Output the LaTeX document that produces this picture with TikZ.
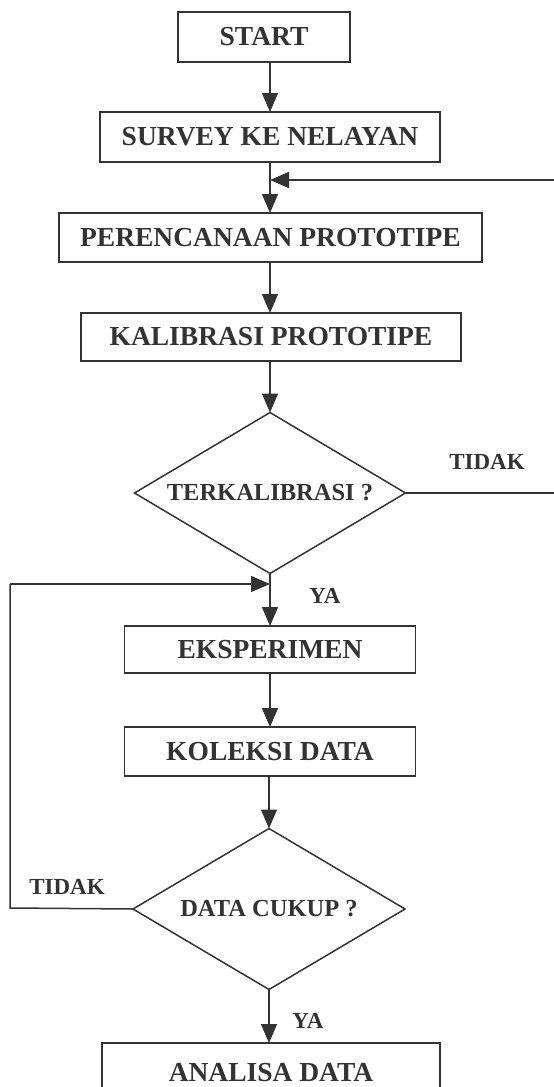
\documentclass[tikz,border=0pt]{standalone}
\usepackage{fontspec}
\setmainfont{Liberation Serif}
\usetikzlibrary{shapes.geometric,arrows.meta}
\definecolor{ink}{RGB}{51,51,51}
\tikzset{
  stepbox/.style={draw=ink, line width=1.5pt, rectangle, inner sep=0pt, outer sep=0pt,
     minimum height=50pt, text=ink, font=\fontsize{27.5}{30}\selectfont\bfseries},
  decision/.style={draw=ink, line width=1.5pt, diamond, inner sep=0pt, outer sep=0pt,
     aspect=1.677, minimum width=271pt, minimum height=161pt, text=ink,
     font=\fontsize{24.5}{28}\selectfont\bfseries},
  lbl/.style={text=ink, inner sep=0pt, font=\fontsize{23}{26}\selectfont\bfseries},
  arr/.style={draw=ink, line width=1.5pt, -{Triangle[length=19pt,width=16pt]}},
  ln/.style={draw=ink, line width=1.5pt},
}
\begin{document}
\begin{tikzpicture}[x=1pt,y=-1pt]
\useasboundingbox (0,0) rectangle (554,1087);
\node[stepbox, minimum width=172pt] (start) at (264,37) {START};
\node[stepbox, minimum width=340pt] (survey) at (270,137) {SURVEY KE NELAYAN};
\node[stepbox, minimum width=423pt, minimum height=49pt] (plan) at (270.5,237.5) {PERENCANAAN PROTOTIPE};
\node[stepbox, minimum width=380pt, minimum height=48pt] (kal) at (271,337) {KALIBRASI PROTOTIPE};
\node[decision] (cek1) at (270,493) {TERKALIBRASI ?};
\node[stepbox, minimum width=291pt, minimum height=47pt] (eks) at (270,649.5) {EKSPERIMEN};
\node[stepbox, minimum width=291pt, minimum height=49pt] (kol) at (270,751.5) {KOLEKSI DATA};
\node[decision, minimum width=272pt] (cek2) at (269,909) {DATA CUKUP ?};
\node[stepbox, minimum width=338pt, minimum height=60pt] (ana) at (271,1073) {ANALISA DATA};
% labels
\node[lbl] (tidak1) at (487,462) {TIDAK};
\node[lbl] (ya1) at (325,596) {YA};
\node[lbl] (tidak2) at (67,887) {TIDAK};
\node[lbl] (ya2) at (308,1021) {YA};
% junction coordinates
\coordinate (j1) at (270,180);
\coordinate (r1) at (555,180);
\coordinate (r2) at (555,493);
\coordinate (j2) at (270,584);
\coordinate (l1) at (10,584);
\coordinate (l2) at (10,908);
% main flow
\draw[arr] (start.south -| survey.north) -- (survey.north);
\draw[arr] (survey.south) -- (plan.north -| survey.south);
\draw[arr] (plan.south -| survey.south) -- (kal.north -| survey.south);
\draw[arr] (kal.south -| cek1.north) -- (cek1.north);
\draw[arr] (cek1.south) -- (eks.north -| cek1.south);
\draw[arr] (eks.south) -- (kol.north);
\draw[arr] (kol.south -| cek2.north) -- (cek2.north);
\draw[arr] (cek2.south) -- (ana.north -| cek2.south);
% loop back TIDAK (right)
\draw[ln] (cek1.east) -- (r2);
\draw[arr] (r1) -- (j1);
% loop back TIDAK (left)
\draw[ln] (cek2.west) -- (l2) -- (l1) -- (j2 -| l1);
\draw[arr] (l1) -- (j2);
\end{tikzpicture}
\end{document}
